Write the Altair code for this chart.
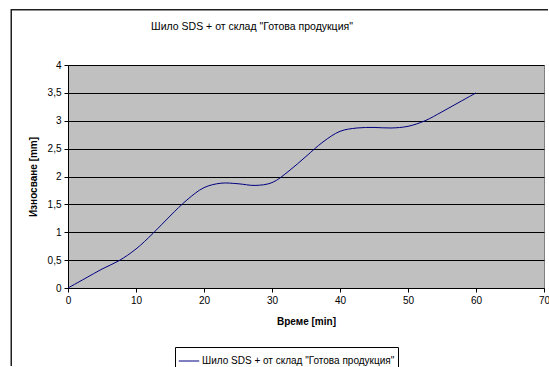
import altair as alt
import pandas as pd

# Wear of the SDS+ chisel from the "finished goods" warehouse over time
time_min = [0, 2.5, 5, 7.5, 10, 12.5, 15, 17.5, 20, 22.5, 25, 27.5, 30,
            32.5, 35, 37.5, 40, 42.5, 45, 47.5, 50, 52.5, 55, 57.5, 60]
wear_mm = [0, 0.17, 0.34, 0.49, 0.70, 0.98, 1.29, 1.58, 1.80, 1.88, 1.87, 1.84, 1.89,
           2.10, 2.36, 2.62, 2.81, 2.87, 2.88, 2.87, 2.90, 3.00, 3.16, 3.33, 3.50]
series_name = 'Шило SDS + от склад "Готова продукция"'
x_ticks = [0, 10, 20, 30, 40, 50, 60, 70]
y_ticks = [0, 0.5, 1, 1.5, 2, 2.5, 3, 3.5, 4]

df = pd.DataFrame({"t": time_min, "w": wear_mm, "s": series_name})

FONT = "Liberation Sans"

comma_label = "replace(format(datum.value, '.1~f'), '.', ',')"

line = alt.Chart(df).mark_line(strokeWidth=1, interpolate="catmull-rom").encode(
    x=alt.X("t:Q", scale=alt.Scale(domain=[0, 70], nice=False),
            axis=alt.Axis(values=x_ticks, title="Време [min]", grid=False,
                          labelFlush=False, titlePadding=11)),
    y=alt.Y("w:Q", scale=alt.Scale(domain=[0, 4], nice=False),
            axis=alt.Axis(values=y_ticks, title="Износване [mm]", grid=True,
                          labelExpr=comma_label, titlePadding=9)),
    color=alt.Color("s:N", scale=alt.Scale(domain=[series_name], range=["#000080"]),
                    legend=alt.Legend(title=None, orient="none", legendX=107, legendY=282,
                                      strokeColor="black", padding=3,
                                      symbolType="stroke", symbolSize=420,
                                      symbolStrokeWidth=1, labelFont=FONT,
                                      labelFontSize=10, labelColor="black",
                                      labelOffset=2, labelLimit=0)),
)

# outer chart frame: thin filled bars along the top and left edges
frame_src = pd.DataFrame({"k": [0]})
frame_top = alt.Chart(frame_src).mark_rect(color="#202020").encode(
    x=alt.value(-57), x2=alt.value(480), y=alt.value(-56), y2=alt.value(-54.5)
)
frame_left = alt.Chart(frame_src).mark_rect(color="#202020").encode(
    x=alt.value(-57.5), x2=alt.value(-56), y=alt.value(-56), y2=alt.value(301)
)

# chart heading
heading = alt.Chart(pd.DataFrame({"label": [series_name]})).mark_text(
    font=FONT, fontSize=10.5, color="black", align="center", baseline="middle"
).encode(text="label:N", x=alt.value(184), y=alt.value(-38))

chart = alt.layer(frame_top, frame_left, line, heading).properties(
    width=476, height=223,
    padding={"left": 68, "top": 65, "right": 5, "bottom": 79},
    autosize=alt.AutoSizeParams(type="none"),
    background="white",
).configure_view(
    fill="#C0C0C0", stroke="#808080", strokeWidth=1
).configure_axis(
    labelFont=FONT, labelFontSize=10, labelColor="black",
    titleFont=FONT, titleFontSize=10, titleFontWeight="bold", titleColor="black",
    domainColor="black", tickColor="black", tickSize=4,
    gridColor="black", gridWidth=1, gridOpacity=1, labelPadding=3,
)

chart.save("out.html", embed_options={"renderer": "svg", "actions": False})
